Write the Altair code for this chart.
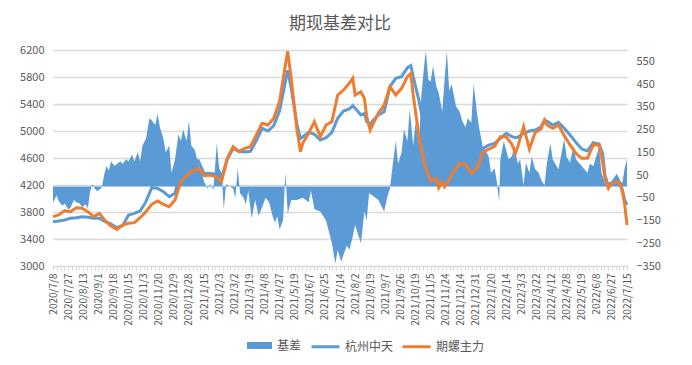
import json
import altair as alt
import pandas as pd

# x-axis category labels (one every 13 trading days)
tick_labels = ['2020/7/8', '2020/7/27', '2020/8/13', '2020/9/1', '2020/9/18', '2020/10/15',
               '2020/11/3', '2020/11/20', '2020/12/9', '2020/12/28', '2021/1/15', '2021/2/3',
               '2021/3/2', '2021/3/19', '2021/4/8', '2021/4/27', '2021/5/19', '2021/6/7',
               '2021/6/25', '2021/7/14', '2021/8/2', '2021/8/19', '2021/9/7', '2021/9/26',
               '2021/10/19', '2021/11/5', '2021/11/24', '2021/12/14', '2021/12/31', '2022/1/20',
               '2022/2/14', '2022/3/3', '2022/3/22', '2022/4/12', '2022/4/28', '2022/5/19',
               '2022/6/8', '2022/6/27', '2022/7/15']
DAYS_PER_LABEL = 13

# trading-day index of line samples
line_days = [0, 5, 10, 15, 20, 25, 30, 35, 40, 45, 50, 55, 60, 65, 70, 75, 80, 85, 90, 95,
             100, 105, 110, 115, 120, 125, 130, 135, 140, 145, 150, 155, 160, 165, 170, 175,
             180, 185, 190, 195, 200, 202, 205, 210, 213, 215, 220, 225, 230, 235, 240, 245,
             250, 255, 258, 260, 265, 268, 270, 273, 275, 280, 285, 290, 295, 300, 305, 308,
             310, 315, 320, 325, 330, 332, 335, 337, 340, 345, 350, 355, 360, 365, 370, 375,
             380, 385, 390, 395, 398, 400, 405, 410, 415, 420, 423, 425, 430, 435, 440, 445,
             450, 455, 460, 465, 470, 473, 475, 478, 480, 485, 488, 490, 492, 494]
# 杭州中天 (spot)
spot = [3657, 3667, 3682, 3706, 3716, 3731, 3721, 3706, 3706, 3657, 3622, 3568, 3600, 3756,
        3780, 3815, 3953, 4160, 4150, 4101, 4027, 4076, 4420, 4560, 4560, 4560, 4370, 4370,
        4360, 4300, 4580, 4740, 4700, 4690, 4700, 4860, 5040, 5000, 5080, 5300, 5731, 5900,
        5632, 5089, 4891, 4916, 4980, 4951, 4866, 4900, 4980, 5188, 5296, 5326, 5375, 5336,
        5237, 5262, 5138, 5089, 5148, 5237, 5286, 5657, 5780, 5805, 5938, 5968, 5805, 5450,
        5000, 4750, 4650, 4620, 4580, 4600, 4700, 4780, 4820, 4780, 4700, 4750, 4745, 4790,
        4817, 4891, 4965, 4916, 4900, 4906, 4965, 5000, 5015, 5064, 5160, 5148, 5089, 5128,
        5040, 4941, 4832, 4733, 4704, 4827, 4807, 4669, 4348, 4175, 4200, 4323, 4225, 4126,
        3978, 3904]
# 期螺主力 (futures)
futures = [3731, 3756, 3820, 3805, 3864, 3855, 3805, 3731, 3780, 3667, 3593, 3543, 3608, 3632,
           3642, 3716, 3805, 3914, 3963, 3914, 3879, 3978, 4249, 4338, 4407, 4447, 4338, 4348,
           4324, 4249, 4595, 4768, 4694, 4743, 4768, 4941, 5114, 5089, 5188, 5440, 5978, 6180,
           5780, 5015, 4693, 4822, 4966, 5138, 4916, 5089, 5138, 5533, 5607, 5706, 5780, 5533,
           5582, 5483, 5212, 5015, 5089, 5262, 5385, 5657, 5533, 5632, 5805, 5854, 5533, 4916,
           4496, 4259, 4299, 4160, 4249, 4175, 4249, 4407, 4521, 4506, 4373, 4447, 4684, 4733,
           4768, 4916, 4916, 4802, 4669, 4768, 5064, 4733, 4980, 5030, 5163, 5089, 5040, 5089,
           4931, 4793, 4669, 4595, 4595, 4793, 4793, 4546, 4299, 4151, 4210, 4249, 4225, 4101,
           3914, 3607]

# 基差 (basis)
basis_days = [0, 3, 5, 8, 10, 13, 15, 18, 20, 23, 25, 28, 30, 32, 34, 36, 38, 40, 42, 44, 46,
              48, 50, 53, 55, 58, 60, 63, 65, 68, 70, 73, 75, 77, 80, 83, 85, 88, 90, 92, 95,
              97, 100, 102, 105, 108, 110, 112, 115, 117, 119, 122, 125, 128, 130, 133, 135,
              138, 141, 143, 145, 147, 149, 152, 155, 157, 159, 161, 164, 166, 168, 171, 174,
              177, 180, 183, 186, 189, 191, 193, 195, 198, 200, 202, 205, 210, 215, 220, 222,
              225, 230, 235, 240, 243, 245, 248, 250, 253, 255, 258, 260, 265, 268, 270, 272,
              275, 280, 285, 288, 290, 292, 295, 297, 300, 302, 305, 307, 310, 312, 315, 317,
              320, 321, 323, 325, 327, 330, 332, 335, 337, 339, 341, 343, 345, 347, 350, 352,
              355, 357, 360, 362, 365, 367, 370, 372, 375, 377, 380, 382, 384, 385, 388, 390,
              392, 395, 397, 400, 402, 405, 407, 410, 412, 415, 418, 420, 423, 425, 428, 430,
              435, 440, 442, 445, 448, 450, 455, 460, 462, 465, 468, 470, 472, 475, 480, 485,
              488, 490, 492, 494]
basis = [-72, -40, -65, -85, -75, -100, -95, -60, -70, -75, -90, -80, -95, -20, 10, -10, -20,
         -15, -5, 50, 90, 70, 110, 90, 100, 110, 100, 120, 110, 140, 110, 150, 110, 180, 210,
         300, 290, 270, 320, 260, 210, 150, 180, 60, 120, 230, 200, 250, 200, 290, 180, 160,
         100, 60, 20, -10, 10, -15, 190, 80, 60, -100, 10, 0, -10, -50, 80, -30, -50, -80,
         -20, -140, -60, -130, -90, -50, -70, -130, -160, -130, -190, -150, 60, -120, -60,
         -60, -50, -70, -20, -100, -110, -150, -250, -340, -280, -330, -300, -260, -280,
         -220, -170, -250, -110, -150, -30, -40, -60, -110, -40, -10, 80, 200, 100, 150, 250,
         200, 340, 180, 280, 190, 400, 560, 595, 470, 460, 530, 440, 410, 330, 470, 595, 420,
         450, 400, 350, 330, 290, 260, 300, 280, 450, 320, 250, 170, 160, 130, 60, 80, 20,
         -70, 120, 200, 160, 120, 133, 180, 100, 120, 5, 104, 60, 130, 75, 60, 30, 5, 100,
         190, 120, 75, 210, 130, 104, 180, 120, 90, 60, 100, 90, 140, 170, 60, 15, 20, 35,
         20, 15, 80, 120]

lines_df = pd.DataFrame({'day': line_days, '杭州中天': spot, '期螺主力': futures})
basis_df = pd.DataFrame({'day': basis_days, 'basis': basis})

GREY = '#595959'
FONT = 'Noto Sans CJK SC'
last_day = DAYS_PER_LABEL * (len(tick_labels) - 1)

label_expr = ("datum.value % 13 === 0 ? " + json.dumps(tick_labels, ensure_ascii=False)
              + "[datum.value / 13] : ''")
x_axis = alt.Axis(values=[i * 3.25 for i in range(int(last_day / 3.25) + 1)],
                  labelExpr=label_expr, labelAngle=-90, labelAlign='right',
                  labelBaseline='middle', labelFontSize=10, labelColor=GREY, labelFont=FONT,
                  labelPadding=3, labelOverlap=False, labelBound=False, labelFlush=False,
                  domainColor='#d9d9d9', tickColor='#d9d9d9', tickSize=4, grid=False,
                  title=None)
x_enc = alt.X('day:Q', scale=alt.Scale(domain=[0, last_day], nice=False, zero=False),
              axis=x_axis)

area = alt.Chart(basis_df).transform_calculate(s="'基差'").mark_area(
    interpolate='linear', opacity=1
).encode(
    x=x_enc,
    y=alt.Y('basis:Q', scale=alt.Scale(domain=[-350, 600], nice=False, zero=False),
            axis=alt.Axis(orient='right', values=list(range(-350, 551, 100)), grid=False,
                          domain=False, ticks=False, title=None, labelPadding=9,
                          labelFontSize=11, labelColor=GREY, labelFont=FONT, format='d')),
    y2=alt.datum(0),
    fill=alt.Fill('s:N', scale=alt.Scale(domain=['基差'], range=['#5B9BD5']),
                  legend=alt.Legend(orient='none', legendX=194, legendY=283,
                                    direction='horizontal', title=None,
                                    symbolType='M-1,-0.28H1V0.28H-1Z', symbolSize=625,
                                    symbolStrokeWidth=0, labelFontSize=12,
                                    labelColor=GREY, labelFont=FONT, labelOffset=5))
)

lines = alt.Chart(lines_df).transform_fold(
    ['杭州中天', '期螺主力'], as_=['series', 'price']
).mark_line(strokeWidth=3).encode(
    x=x_enc,
    y=alt.Y('price:Q', scale=alt.Scale(domain=[3000, 6200], nice=False, zero=False),
            axis=alt.Axis(orient='left', values=list(range(3000, 6201, 400)), grid=True,
                          gridColor='#d9d9d9', gridWidth=1.3, domain=False, ticks=False,
                          title=None, labelPadding=9, labelFontSize=11, labelColor=GREY,
                          labelFont=FONT, format='d')),
    stroke=alt.Stroke('series:N',
                      scale=alt.Scale(domain=['杭州中天', '期螺主力'],
                                      range=['#5B9BD5', '#ED7D31']),
                      legend=alt.Legend(orient='none', legendX=257, legendY=281,
                                        direction='horizontal', title=None,
                                        symbolType='stroke', symbolSize=784,
                                        symbolStrokeWidth=3, labelFontSize=12,
                                        labelColor=GREY, labelFont=FONT, labelOffset=4,
                                        columnPadding=2))
)

chart = alt.layer(area, lines).resolve_scale(y='independent').properties(
    width=574, height=216,
    title=alt.TitleParams('期现基差对比', fontSize=17, color=GREY, font=FONT,
                          fontWeight='normal', anchor='middle', offset=11),
    autosize=alt.AutoSizeParams(type='none'),
    padding={'left': 45, 'top': 42, 'right': 57, 'bottom': 91},
    background='white'
).configure_view(stroke=None)

chart.save('out.html', embed_options={'renderer': 'svg', 'actions': False})
